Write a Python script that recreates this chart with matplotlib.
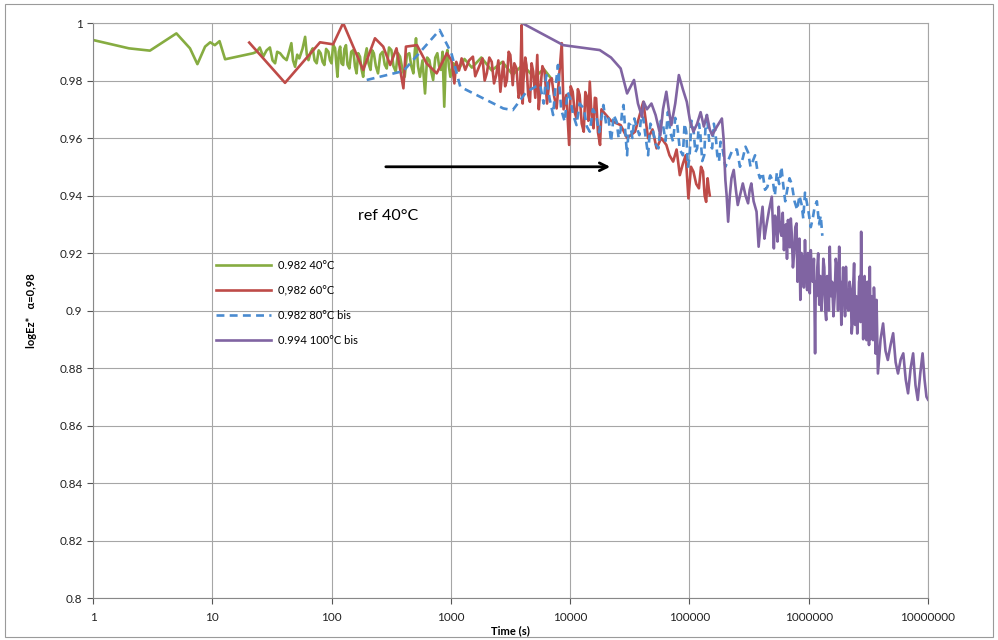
import matplotlib

matplotlib.use("Agg")
import matplotlib.pyplot as plt
from matplotlib.patches import Rectangle

# --- data ---
green_t = [1, 2, 3, 5, 6.5, 7.5, 8.7, 9.6, 10.5, 11.5, 12.8, 22,
           23.5, 25, 26.7, 28.5, 30.4, 32, 33.6, 35, 37, 39.5,
           42, 44, 46, 47.5, 49.4, 51.5, 53.6, 57, 60, 62,
           64, 67, 69.5, 72, 75, 78, 81, 84, 87, 90,
           94, 97, 100, 103, 107, 110, 112, 115, 118, 121,
           125, 128, 132, 136, 141, 146, 152, 157, 162, 167,
           173, 178, 184, 190, 197, 204, 212, 219, 226, 235,
           245, 256, 268, 279, 290, 303, 317, 330, 345, 360,
           375, 392, 410, 428, 448, 466, 485, 498, 510, 530,
           550, 578, 607, 632, 660, 685, 710, 740, 770, 797,
           825, 852, 880, 907, 935, 962, 990,
           1050, 1150, 1300, 1500, 1800, 2200, 2700, 3300, 4000, 5000, 6000, 7000]
green_y = [0.9941, 0.9912, 0.9904, 0.9964, 0.9912, 0.9857, 0.9918, 0.9933, 0.9923,
           0.9937, 0.9874, 0.9895,
           0.9900, 0.9915, 0.9883, 0.9905, 0.9915, 0.9870, 0.9860, 0.9900, 0.9895, 0.9880,
           0.9871, 0.9900, 0.9930, 0.9870, 0.9848, 0.9890, 0.9877, 0.9910, 0.9952, 0.9890,
           0.9871, 0.9900, 0.9912, 0.9870, 0.9860, 0.9905, 0.9895, 0.9865, 0.9854, 0.9910,
           0.9900, 0.9870, 0.9860, 0.9925, 0.9912, 0.9850, 0.9813, 0.9900, 0.9918, 0.9860,
           0.9854, 0.9910, 0.9923, 0.9855, 0.9842, 0.9900, 0.9906, 0.9850, 0.9825, 0.9895,
           0.9883, 0.9840, 0.9813, 0.9880, 0.9912, 0.9860, 0.9837, 0.9905, 0.9895, 0.9850,
           0.9825, 0.9890, 0.9900, 0.9855, 0.9842, 0.9915, 0.9906, 0.9850, 0.9831, 0.9895,
           0.9883, 0.9840, 0.9813, 0.9890, 0.9895, 0.9850, 0.9825, 0.9900, 0.9947, 0.9850,
           0.9813, 0.9870, 0.9755, 0.9880, 0.9871, 0.9830, 0.9802, 0.9880, 0.9895, 0.9850,
           0.9837, 0.9900, 0.9709, 0.9880, 0.9906, 0.9850, 0.9813,
           0.9860, 0.9835, 0.9875, 0.9845, 0.9880, 0.9835, 0.9865, 0.9820, 0.9855, 0.9810,
           0.9840, 0.9805]

red_t = [20.4, 40.7, 80, 103, 125, 184, 231, 271, 310, 350,
         400, 420, 520, 625, 760, 925, 1010, 1070, 1110, 1170,
         1230, 1320, 1420, 1530, 1600, 1700, 1840, 1920, 2000, 2100,
         2200, 2300, 2400, 2500, 2600, 2750, 2850, 2950, 3050, 3150,
         3300, 3400, 3550, 3700, 3800, 3920, 4000, 4050, 4200, 4300,
         4450, 4600, 4750, 4900, 5100, 5300, 5450, 5600, 5850, 6100,
         6400, 6700, 7000, 7300, 7700, 8100, 8500, 8800, 9300, 9800,
         10100, 10500, 10900, 11300, 11600, 12000, 12500, 13000, 13400, 13800,
         14200, 14600, 15100, 15700, 16100, 16500, 17100, 17800, 18300, 19000,
         22000, 26500, 30000, 35000, 41000, 45000, 49000, 53000, 58000, 64000,
         68000, 73000, 78000, 83000, 88000, 93000, 98000, 103000, 108000, 114000,
         120000, 125000, 130000, 134000, 138000, 142000, 145000, 148000]
red_y = [0.9932, 0.9792, 0.9933, 0.9926, 1.0000, 0.9837, 0.9947, 0.9918, 0.9854, 0.9912,
         0.9773, 0.9918, 0.9923, 0.9860, 0.9825, 0.9895, 0.9871, 0.9790, 0.9865, 0.9835,
         0.9877, 0.9837, 0.9870, 0.9883, 0.9815, 0.9842, 0.9877, 0.9800, 0.9825, 0.9880,
         0.9865, 0.9790, 0.9819, 0.9870, 0.9761, 0.9865, 0.9780, 0.9802, 0.9900, 0.9889,
         0.9784, 0.9860, 0.9842, 0.9740, 0.9761, 0.9993, 0.9720, 0.9796, 0.9880, 0.9854,
         0.9750, 0.9726, 0.9860, 0.9831, 0.9740, 0.9889, 0.9700, 0.9761, 0.9850, 0.9831,
         0.9720, 0.9800, 0.9808, 0.9750, 0.9703, 0.9820, 0.9930, 0.9700, 0.9750, 0.9576,
         0.9780, 0.9761, 0.9690, 0.9668, 0.9770, 0.9750, 0.9650, 0.9622, 0.9760, 0.9744,
         0.9660, 0.9796, 0.9680, 0.9634, 0.9740, 0.9738, 0.9620, 0.9576, 0.9700, 0.9691,
         0.9660, 0.9645, 0.9600, 0.9622, 0.9726, 0.9599, 0.9630, 0.9564, 0.9600, 0.9576,
         0.9540, 0.9518, 0.9560, 0.9471, 0.9510, 0.9540, 0.9390, 0.9500, 0.9483, 0.9440,
         0.9425, 0.9500, 0.9483, 0.9400, 0.9378, 0.9460, 0.9425, 0.9400]

blue_t = [197, 400, 805, 1010, 1200, 2750, 3300, 4300, 5200, 5600,
          6000, 6300, 6700, 7200, 7500, 7900, 8400, 9000, 9500, 10000,
          10600, 11300, 12000, 13000, 13800, 14600, 15500, 16500, 17500, 19000,
          20000, 21000, 22000, 23200, 24500, 25500, 26500, 27200, 28000, 29000,
          30000, 31000, 32000, 33200, 34500, 36000, 38000, 39500, 41000, 43000,
          45000, 47000, 49000, 52000, 55000, 57500, 60000, 63000, 66000, 69000,
          73000, 76000, 79000, 83000, 88000, 91000, 94000, 97000, 100000, 104000,
          108000, 112000, 116000, 120000, 123000, 128000, 133000, 137000, 140000, 147000,
          155000, 160000, 165000, 171000, 177000, 182000, 190000, 200000, 215000, 230000,
          250000, 265000, 280000, 295000, 310000, 325000, 340000, 355000, 370000, 390000,
          410000, 430000, 450000, 475000, 500000, 520000, 540000, 565000, 590000, 610000,
          635000, 660000, 690000, 720000, 760000, 800000, 835000, 870000, 900000, 930000,
          960000, 990000, 1040000, 1080000, 1120000, 1170000, 1220000, 1260000, 1300000]
blue_y = [0.9802, 0.9833, 0.9976, 0.9895, 0.9778, 0.9703, 0.9697, 0.9761, 0.9780, 0.9784,
          0.9720, 0.9819, 0.9740, 0.9680, 0.9770, 0.9854, 0.9700, 0.9657, 0.9760, 0.9738,
          0.9680, 0.9645, 0.9720, 0.9703, 0.9640, 0.9622, 0.9700, 0.9680, 0.9620, 0.9715,
          0.9650, 0.9668, 0.9587, 0.9680, 0.9657, 0.9600, 0.9628, 0.9690, 0.9715, 0.9620,
          0.9540, 0.9650, 0.9645, 0.9600, 0.9668, 0.9640, 0.9610, 0.9680, 0.9668, 0.9600,
          0.9540, 0.9650, 0.9634, 0.9580, 0.9564, 0.9660, 0.9645, 0.9590, 0.9691, 0.9620,
          0.9587, 0.9670, 0.9645, 0.9560, 0.9540, 0.9650, 0.9622, 0.9500, 0.9530, 0.9660,
          0.9634, 0.9550, 0.9564, 0.9650, 0.9622, 0.9520, 0.9540, 0.9660, 0.9680, 0.9580,
          0.9564, 0.9650, 0.9622, 0.9540, 0.9518, 0.9587, 0.9560, 0.9500, 0.9530, 0.9560,
          0.9560, 0.9500, 0.9530, 0.9570, 0.9550, 0.9500, 0.9520, 0.9540, 0.9490, 0.9460,
          0.9480, 0.9420, 0.9430, 0.9470, 0.9450, 0.9400, 0.9480, 0.9440, 0.9500, 0.9440,
          0.9380, 0.9420, 0.9460, 0.9440, 0.9380, 0.9350, 0.9400, 0.9370, 0.9320, 0.9410,
          0.9380, 0.9350, 0.9290, 0.9320, 0.9360, 0.9380, 0.9300, 0.9330, 0.9260]

purple_t = [3950, 8770, 17700, 22000, 26500, 30000, 34300, 37000, 40000, 41300,
            44000, 48000, 52000, 57000, 60000, 64000, 67000, 70500, 76000, 81500,
            88000, 95000, 101000, 108000, 116000, 124000, 132000, 140000, 148000, 155000,
            170000, 187000, 193000, 200000, 205000, 211000, 218000, 225000, 235000, 245000,
            254000, 265000, 280000, 295000, 310000, 320000, 330000, 345000, 365000, 380000,
            395000, 410000, 425000, 440000, 465000,
            490000, 500000, 510000, 522000, 535000, 547000, 560000, 575000, 590000, 605000,
            620000, 632000, 645000, 657000, 670000, 682000, 695000, 707000, 720000, 737000,
            755000, 772000, 790000, 805000, 820000, 835000, 850000, 870000, 890000, 910000,
            930000, 950000, 970000, 985000, 1000000, 1020000, 1040000, 1060000, 1080000, 1105000,
            1130000, 1145000, 1160000, 1180000, 1200000, 1225000, 1250000, 1275000, 1300000, 1325000,
            1350000, 1375000, 1400000, 1425000, 1450000, 1475000, 1500000, 1535000, 1570000, 1610000,
            1650000, 1685000, 1720000, 1760000, 1800000, 1825000, 1850000, 1875000, 1900000, 1940000,
            1980000, 2015000, 2050000, 2100000, 2150000, 2200000, 2250000, 2290000, 2330000, 2365000,
            2400000, 2450000, 2500000, 2550000, 2600000, 2640000, 2680000, 2715000, 2750000, 2785000,
            2820000, 2860000, 2900000, 2935000, 2970000, 3010000, 3050000, 3100000, 3150000, 3200000,
            3250000, 3300000, 3350000, 3400000, 3460000, 3520000, 3580000, 3640000, 3700000, 3750000,
            3800000, 4000000, 4200000, 4400000, 4600000, 4850000, 5100000, 5350000, 5600000, 5900000,
            6200000, 6500000, 6800000, 7150000, 7500000, 7850000, 8200000, 8600000, 9000000, 9350000,
            9700000, 10000000]
purple_y = [1.0000, 0.9923, 0.9906, 0.9880, 0.9842, 0.9755, 0.9802, 0.9720, 0.9674, 0.9726,
            0.9700, 0.9720, 0.9680, 0.9610, 0.9700, 0.9761, 0.9700, 0.9645, 0.9720, 0.9819,
            0.9770, 0.9726, 0.9660, 0.9622, 0.9650, 0.9690, 0.9640, 0.9680, 0.9630, 0.9610,
            0.9640, 0.9668, 0.9600, 0.9454, 0.9400, 0.9309, 0.9400, 0.9460, 0.9489, 0.9420,
            0.9367, 0.9400, 0.9442, 0.9400, 0.9373, 0.9420, 0.9442, 0.9380, 0.9344, 0.9222,
            0.9300, 0.9361, 0.9250, 0.9291, 0.9350,
            0.9396, 0.9300, 0.9216, 0.9330, 0.9300, 0.9240, 0.9361, 0.9280, 0.9260, 0.9340,
            0.9210, 0.9290, 0.9300, 0.9180, 0.9315, 0.9250, 0.9220, 0.9320, 0.9268, 0.9150,
            0.9200, 0.9290, 0.9303, 0.9100, 0.9150, 0.9250, 0.9037, 0.9200, 0.9180, 0.9080,
            0.9245, 0.9120, 0.9071, 0.9200, 0.9150, 0.9060, 0.9210, 0.9140, 0.9100, 0.9180,
            0.8851, 0.9100, 0.9050, 0.9150, 0.9199, 0.9020, 0.9120, 0.9000, 0.9060, 0.9180,
            0.9150, 0.9000, 0.8967, 0.9120, 0.9100, 0.9000, 0.9222, 0.9050, 0.9100, 0.8980,
            0.9048, 0.9180, 0.9150, 0.9000, 0.9222, 0.9050, 0.9100, 0.8950, 0.9013, 0.9150,
            0.9100, 0.8980, 0.9152, 0.9020, 0.9000, 0.9100, 0.9071, 0.8920, 0.8960, 0.9100,
            0.9164, 0.8950, 0.9050, 0.8920, 0.8990, 0.9100, 0.9120, 0.8960, 0.9274, 0.9000,
            0.9100, 0.8900, 0.9037, 0.9120, 0.8950, 0.9050, 0.8897, 0.9100, 0.9050, 0.8880,
            0.9152, 0.8900, 0.8950, 0.9050, 0.8897, 0.9080, 0.9000, 0.8850, 0.9037, 0.8900,
            0.8781, 0.8900, 0.8955, 0.8860, 0.8828, 0.8880, 0.8921, 0.8820, 0.8781, 0.8830,
            0.8851, 0.8760, 0.8712, 0.8800, 0.8851, 0.8740, 0.8689, 0.8780, 0.8851, 0.8760,
            0.8700, 0.8690]

labels = ["0.982 40°C", "0,982 60°C", "0.982 80°C bis", "0.994 100°C bis"]
colors = ["#86ac41", "#be4b48", "#4a8bd0", "#8064a2"]

x_ticks = [1, 10, 100, 1000, 10000, 100000, 1000000, 10000000]
x_tick_labels = ["1", "10", "100", "1000", "10000", "100000", "1000000", "10000000"]
y_ticks = [0.8, 0.82, 0.84, 0.86, 0.88, 0.9, 0.92, 0.94, 0.96, 0.98, 1.0]
y_tick_labels = ["0.8", "0.82", "0.84", "0.86", "0.88", "0.9", "0.92", "0.94",
                 "0.96", "0.98", "1"]

plt.rcParams["font.family"] = ["Lato", "DejaVu Sans"]

fig = plt.figure(figsize=(9.98, 6.4), dpi=100)
ax = fig.add_axes([0.0932, 0.0656, 0.8367, 0.8984])

lw = 1.9
ax.plot(green_t, green_y, color=colors[0], lw=lw, label=labels[0])
ax.plot(red_t, red_y, color=colors[1], lw=lw, label=labels[1])
ax.plot(blue_t, blue_y, color=colors[2], lw=lw, ls=(0, (3, 2)), label=labels[2])
ax.plot(purple_t, purple_y, color=colors[3], lw=lw, label=labels[3])

ax.set_xscale("log")
ax.set_xlim(1, 1e7)
ax.set_ylim(0.8, 1.0)
ax.set_xticks(x_ticks)
ax.set_xticklabels(x_tick_labels)
ax.set_yticks(y_ticks)
ax.set_yticklabels(y_tick_labels)
ax.minorticks_off()
ax.tick_params(axis="both", labelsize=8.5, colors="#555555", length=4, width=0.8,
               labelcolor="#222222")
ax.tick_params(axis="x", pad=6)
ax.grid(True, color="#a6a6a6", lw=0.8)
ax.set_axisbelow(True)
for side, sp in ax.spines.items():
    sp.set_color("#a6a6a6" if side in ("top", "right") else "#888888")
    sp.set_linewidth(0.8)

ax.set_xlabel("Time (s)", fontsize=8, fontweight="bold", labelpad=2)
ax.set_ylabel("logEz*   α=0,98", fontsize=8, fontweight="bold", labelpad=16)

ax.annotate("", xy=(22850, 0.95), xytext=(270, 0.95),
            arrowprops=dict(arrowstyle="->", color="black", lw=2,
                            mutation_scale=14))
ax.text(166, 0.9328, "ref 40°C", fontsize=11.5, ha="left", va="center")

ax.legend(loc="upper left", bbox_to_anchor=(0.135, 0.605), frameon=False,
          fontsize=8, handlelength=5.0, labelspacing=1.25, handletextpad=0.6)

fig.patches.append(Rectangle((0.005, 0.004), 0.99, 0.99, transform=fig.transFigure,
                             fill=False, edgecolor="#9a9a9a", lw=0.8))

fig.savefig("out.png", dpi=100)
